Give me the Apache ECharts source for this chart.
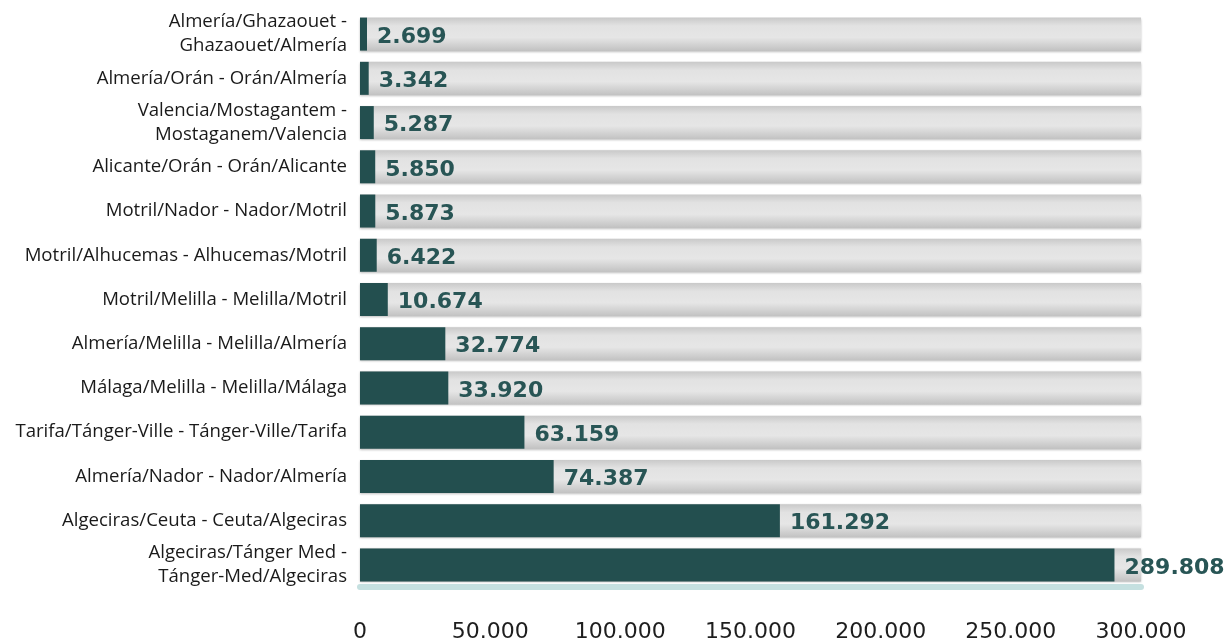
<!DOCTYPE html>
<html><head><meta charset="utf-8">
<script src="https://cdn.jsdelivr.net/npm/echarts@6/dist/echarts.min.js"></script>
<style>html,body{margin:0;padding:0;background:#fff}#c{width:1231px;height:643px}</style>
</head><body><div id="c"></div>
<script>
var categories = [
  "Almería/Ghazaouet -\nGhazaouet/Almería",
  "Almería/Orán - Orán/Almería",
  "Valencia/Mostagantem -\nMostaganem/Valencia",
  "Alicante/Orán - Orán/Alicante",
  "Motril/Nador - Nador/Motril",
  "Motril/Alhucemas - Alhucemas/Motril",
  "Motril/Melilla - Melilla/Motril",
  "Almería/Melilla - Melilla/Almería",
  "Málaga/Melilla - Melilla/Málaga",
  "Tarifa/Tánger-Ville - Tánger-Ville/Tarifa",
  "Almería/Nador - Nador/Almería",
  "Algeciras/Ceuta - Ceuta/Algeciras",
  "Algeciras/Tánger Med -\nTánger-Med/Algeciras"
];
var values = [2699, 3342, 5287, 5850, 5873, 6422, 10674, 32774, 33920, 63159, 74387, 161292, 289808];
var axisMin = 0, axisMax = 300000, axisInterval = 50000;

function fmt(n){ return String(n).replace(/\B(?=(\d{3})+(?!\d))/g, '.'); }

var chart = echarts.init(document.getElementById('c'));
chart.setOption({
  animation: false,
  grid: { left: 360, right: 90, top: 12, bottom: 55, containLabel: false },
  xAxis: {
    type: 'value', min: axisMin, max: axisMax, interval: axisInterval,
    splitLine: { show: false },
    axisTick: { show: false },
    axisLine: { show: true, lineStyle: { color: '#c5e0e0', width: 6 } },
    axisLabel: { formatter: function(v){ return fmt(v); }, margin: 34, fontSize: 22, color: '#1e1e1e', fontFamily: 'DejaVu Sans' }
  },
  yAxis: {
    type: 'category', data: categories, inverse: true,
    axisLine: { show: false }, axisTick: { show: false },
    axisLabel: { fontSize: 18.6, color: '#1a1a1a', fontFamily: 'Open Sans', lineHeight: 24, margin: 13, align: 'right' }
  },
  series: [{
    type: 'bar', data: values, barWidth: 33,
    itemStyle: { color: '#234f4f' },
    showBackground: true,
    backgroundStyle: {
      color: { type: 'linear', x: 0, y: 0, x2: 0, y2: 1, colorStops: [
        { offset: 0, color: '#c9c9c9' }, { offset: 0.25, color: '#e2e2e2' },
        { offset: 0.6, color: '#e6e6e6' }, { offset: 1, color: '#c2c2c2' } ] },
      shadowColor: 'rgba(0,0,0,0.25)', shadowBlur: 2, shadowOffsetY: 1
    },
    label: {
      show: true, position: 'right', distance: 10, offset: [0, 3],
      formatter: function(p){ return fmt(p.value); },
      fontSize: 22, fontWeight: 'bold', color: '#285555', fontFamily: 'DejaVu Sans'
    }
  }]
});
</script></body></html>
